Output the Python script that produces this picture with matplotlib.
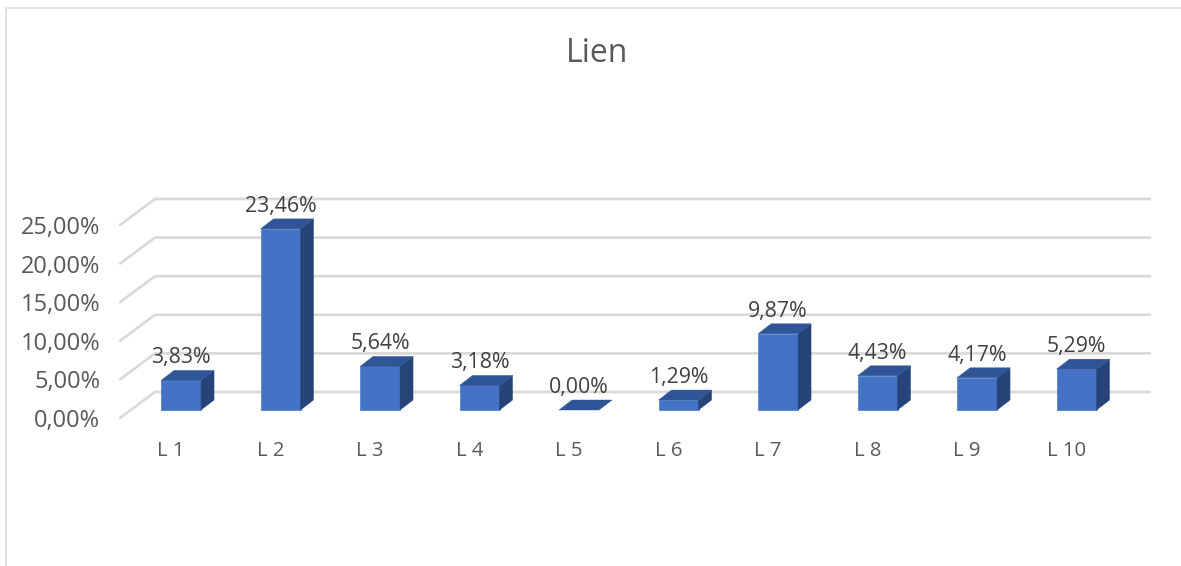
import matplotlib
matplotlib.use("Agg")
import matplotlib.pyplot as plt
from matplotlib.patches import Polygon
from matplotlib.transforms import IdentityTransform
from matplotlib.lines import Line2D

plt.rcParams['font.family'] = ['Open Sans', 'DejaVu Sans']

categories = ['L 1', 'L 2', 'L 3', 'L 4', 'L 5', 'L 6', 'L 7', 'L 8', 'L 9', 'L 10']
values = [3.83, 23.46, 5.64, 3.18, 0.00, 1.29, 9.87, 4.43, 4.17, 5.29]
value_labels = ['3,83%', '23,46%', '5,64%', '3,18%', '0,00%', '1,29%', '9,87%', '4,43%', '4,17%', '5,29%']
y_ticks = [0, 5, 10, 15, 20, 25]
y_tick_labels = ['0,00%', '5,00%', '10,00%', '15,00%', '20,00%', '25,00%']
title = 'Lien'

W, H = 1181, 566
fig = plt.figure(figsize=(W / 100, H / 100), dpi=100, facecolor='white')

# front plane of the 3D box, pixel-fitted
left, right = 131.3, 1126.3
bottom_y, top_y = 410.0, 217.0
ax = fig.add_axes([left / W, 1 - bottom_y / H, (right - left) / W, (bottom_y - top_y) / H])
ax.set_xlim(-0.5, 9.5)
ax.set_ylim(0, 25)
ax.axis('off')

fig.canvas.draw()
tr = ax.transData
disp = IdentityTransform()
GRID = '#d9d9d9'
FRONT, TOP, SIDE = '#4472c4', '#2f5597', '#264478'

# gridlines: back wall + left wall, offset from the front plane
back_dy = 18.0      # back wall rises above bar front plane
floor_dy = -8.0     # left-wall front edge sits below bar front plane
x_wall_back, x_wall_front, x_end = 155.0, 120.0, 1150.0
for t in y_ticks:
    _, yd = tr.transform((0, t))
    fig.add_artist(Line2D([x_wall_front, x_wall_back, x_end],
                          [yd + floor_dy, yd + back_dy, yd + back_dy],
                          transform=disp, color=GRID, lw=1.9, solid_capstyle='round',
                          solid_joinstyle='round', zorder=1))

# bars
half_w, dx, dy = 20.0, 13.0, 10.0
for i, v in enumerate(values):
    xc, y1 = tr.transform((i, v))
    _, y0 = tr.transform((i, 0))
    xl, xr = xc - half_w, xc + half_w
    if v > 0:
        fig.add_artist(Polygon([(xl, y0), (xr, y0), (xr, y1), (xl, y1)], closed=True, transform=disp,
                               facecolor=FRONT, edgecolor='#5b84cf', lw=0.6, zorder=3))
        fig.add_artist(Polygon([(xr, y0), (xr + dx, y0 + dy), (xr + dx, y1 + dy), (xr, y1)], closed=True,
                               transform=disp, facecolor=SIDE, edgecolor=SIDE, lw=0.3, zorder=3))
    fig.add_artist(Polygon([(xl, y1), (xr, y1), (xr + dx, y1 + dy), (xl + dx, y1 + dy)], closed=True,
                           transform=disp, facecolor=TOP, edgecolor=TOP, lw=0.3, zorder=3))
    fig.text(xc, y1 + 22.5, value_labels[i], transform=disp, ha='center', va='center',
             fontsize=15.3, color='#404040', zorder=5)
    fig.text(xc - 10, y0 - 41, categories[i], transform=disp, ha='center', va='center',
             fontsize=14.6, color='#595959', zorder=5)

for t, lab in zip(y_ticks, y_tick_labels):
    _, yd = tr.transform((0, t))
    fig.text(100, yd - 11, lab, transform=disp, ha='right', va='center',
             fontsize=17, color='#595959', zorder=5)

fig.text(597 / W, 1 - 53 / H, title, ha='center', va='center', fontsize=23, color='#595959')

# chart border
fig.add_artist(Line2D([5.5, 5.5, W], [0, H - 8, H - 8], transform=disp, color='#e2e2e2', lw=1.4, zorder=1))

fig.savefig('out.png', dpi=100, facecolor='white')
